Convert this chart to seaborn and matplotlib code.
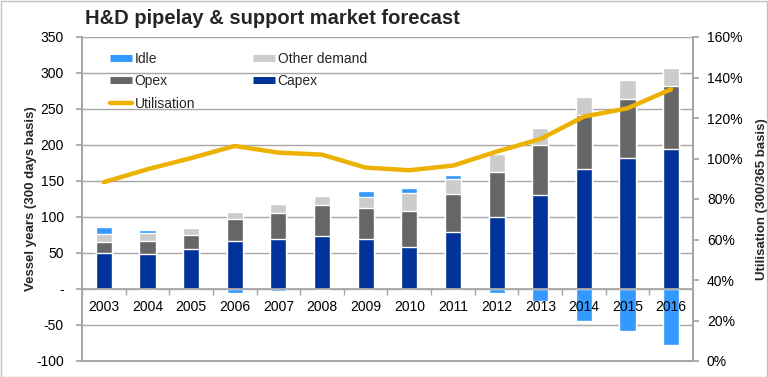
import matplotlib
matplotlib.use("Agg")
import matplotlib.pyplot as plt
import seaborn as sns
import pandas as pd
import numpy as np
from matplotlib.lines import Line2D
from matplotlib.patches import Rectangle

# ---- data ----
years = [str(y) for y in range(2003, 2017)]
capex = [50, 48, 55, 66, 69, 74, 69, 59, 79, 100, 131, 166, 182, 195]
opex = [15, 18, 20, 31, 37, 42, 44, 49, 53, 63, 69, 76, 82, 87]
other = [11, 12, 10, 10, 12, 13, 15, 25, 21, 24, 23, 25, 26, 25]
idle = [10, 4, 0, -6, -3, -2, 8, 7, 6, -6, -17, -44, -58, -78]
utilisation = [88.3, 94.7, 100.2, 106.2, 102.9, 101.9, 95.5, 94.2, 96.5,
               103.4, 109.6, 120.7, 124.8, 134.2]
left_ticks = [-100, -50, 0, 50, 100, 150, 200, 250, 300, 350]
left_labels = ["-100", "-50", "-", "50", "100", "150", "200", "250", "300", "350"]
right_ticks = [0, 20, 40, 60, 80, 100, 120, 140, 160]
right_labels = [f"{v}%" for v in right_ticks]

C_IDLE = "#3399ff"
C_OTHER = "#cccccc"
C_OPEX = "#666666"
C_CAPEX = "#003399"
C_UTIL = "#edb100"
C_GRID = "#a6a6a6"

sns.set_theme(style="white")
plt.rcParams['font.family'] = ['Liberation Sans', 'DejaVu Sans']

df = pd.DataFrame({"year": years, "capex": capex, "opex": opex,
                   "other": other, "idle": idle, "util": utilisation})
df["idle_pos"] = df["idle"].clip(lower=0)
df["idle_neg"] = df["idle"].clip(upper=0)
df["t2"] = df["capex"] + df["opex"]
df["t3"] = df["t2"] + df["other"]
df["t4"] = df["t3"] + df["idle_pos"]

fig = plt.figure(figsize=(7.68, 3.77), dpi=100)
ax = fig.add_axes([82 / 768, 16 / 377, 611 / 768, 324 / 377])

for col, color in [("t4", C_IDLE), ("t3", C_OTHER), ("t2", C_OPEX),
                   ("capex", C_CAPEX), ("idle_neg", C_IDLE)]:
    sns.barplot(data=df, x="year", y=col, color=color, saturation=1,
                width=0.37, edgecolor="white", linewidth=1, errorbar=None, ax=ax)

ax.set_ylim(-100, 350)
ax.set_yticks(left_ticks)
ax.set_yticklabels(left_labels)
ax.yaxis.grid(False)
for yv in left_ticks:
    ax.axhline(yv, color=C_GRID, linewidth=1, zorder=0)
ax.set_axisbelow(False)

ax2 = ax.twinx()
sns.lineplot(data=df, x="year", y="util", ax=ax2, color=C_UTIL,
             linewidth=3.2, sort=False)
ax2.set_ylim(0, 160)
ax2.set_yticks(right_ticks)
ax2.set_yticklabels(right_labels)
ax2.set_xlabel("")
ax2.set_ylabel("Utilisation (300/365 basis)", fontsize=9.5, fontweight="bold")
ax2.yaxis.set_label_coords(1.103, 0.5)

ax.set_xlim(-0.5, len(years) - 0.5)
ax.set_xticks(range(len(years)))
ax.set_xticklabels(years)
ax.set_xticks(np.arange(-0.5, len(years), 1.0), minor=True)
ax.set_xlabel("")
ax.set_ylabel("Vessel years (300 days basis)", fontsize=9.5, fontweight="bold")
ax.yaxis.set_label_coords(-0.073, 0.5)

ax.spines["bottom"].set_position(("data", 0))
for a in (ax, ax2):
    a.spines["top"].set_visible(False)
    for s in ("left", "right", "bottom"):
        a.spines[s].set_color(C_GRID)
ax2.spines["bottom"].set_visible(False)
ax.tick_params(axis="x", which="major", length=0, pad=8, labelsize=10, colors="black")
ax.tick_params(axis="x", which="minor", length=4, direction="out", color=C_GRID, bottom=True)
ax.tick_params(axis="y", length=4, direction="out", color=C_GRID, left=True,
               pad=9, labelsize=10, labelcolor="black")
ax2.tick_params(axis="y", length=4, direction="out", color=C_GRID, right=True,
                pad=6, labelsize=10, labelcolor="black")
ax.add_line(Line2D([0, 1], [0, 0], transform=ax.transAxes, color=C_GRID,
                   lw=1.5, clip_on=False))

handles = [
    Line2D([], [], color=C_IDLE, lw=5, solid_capstyle="butt"),
    Line2D([], [], color=C_OPEX, lw=5, solid_capstyle="butt"),
    Line2D([], [], color=C_UTIL, lw=3.2, solid_capstyle="round"),
    Line2D([], [], color=C_OTHER, lw=5, solid_capstyle="butt"),
    Line2D([], [], color=C_CAPEX, lw=5, solid_capstyle="butt"),
]
labels = ["Idle", "Opex", "Utilisation", "Other demand", "Capex"]
ax.legend(handles, labels, ncol=2, loc="upper left",
          bbox_to_anchor=(0.046, 0.955), frameon=False, fontsize=10,
          handlelength=1.6, handletextpad=0.15, labelspacing=0.62,
          columnspacing=4.2, borderpad=0, borderaxespad=0)

fig.text(85 / 768, 1 - 19 / 377, "H&D pipelay & support market forecast",
         fontsize=14.5, fontweight="bold", va="center", ha="left")
fig.patches.append(Rectangle((0.001, 0.001), 0.998, 0.997, transform=fig.transFigure,
                             fill=False, edgecolor="#c0c0c0", lw=1))

fig.savefig("out.png", dpi=100)
